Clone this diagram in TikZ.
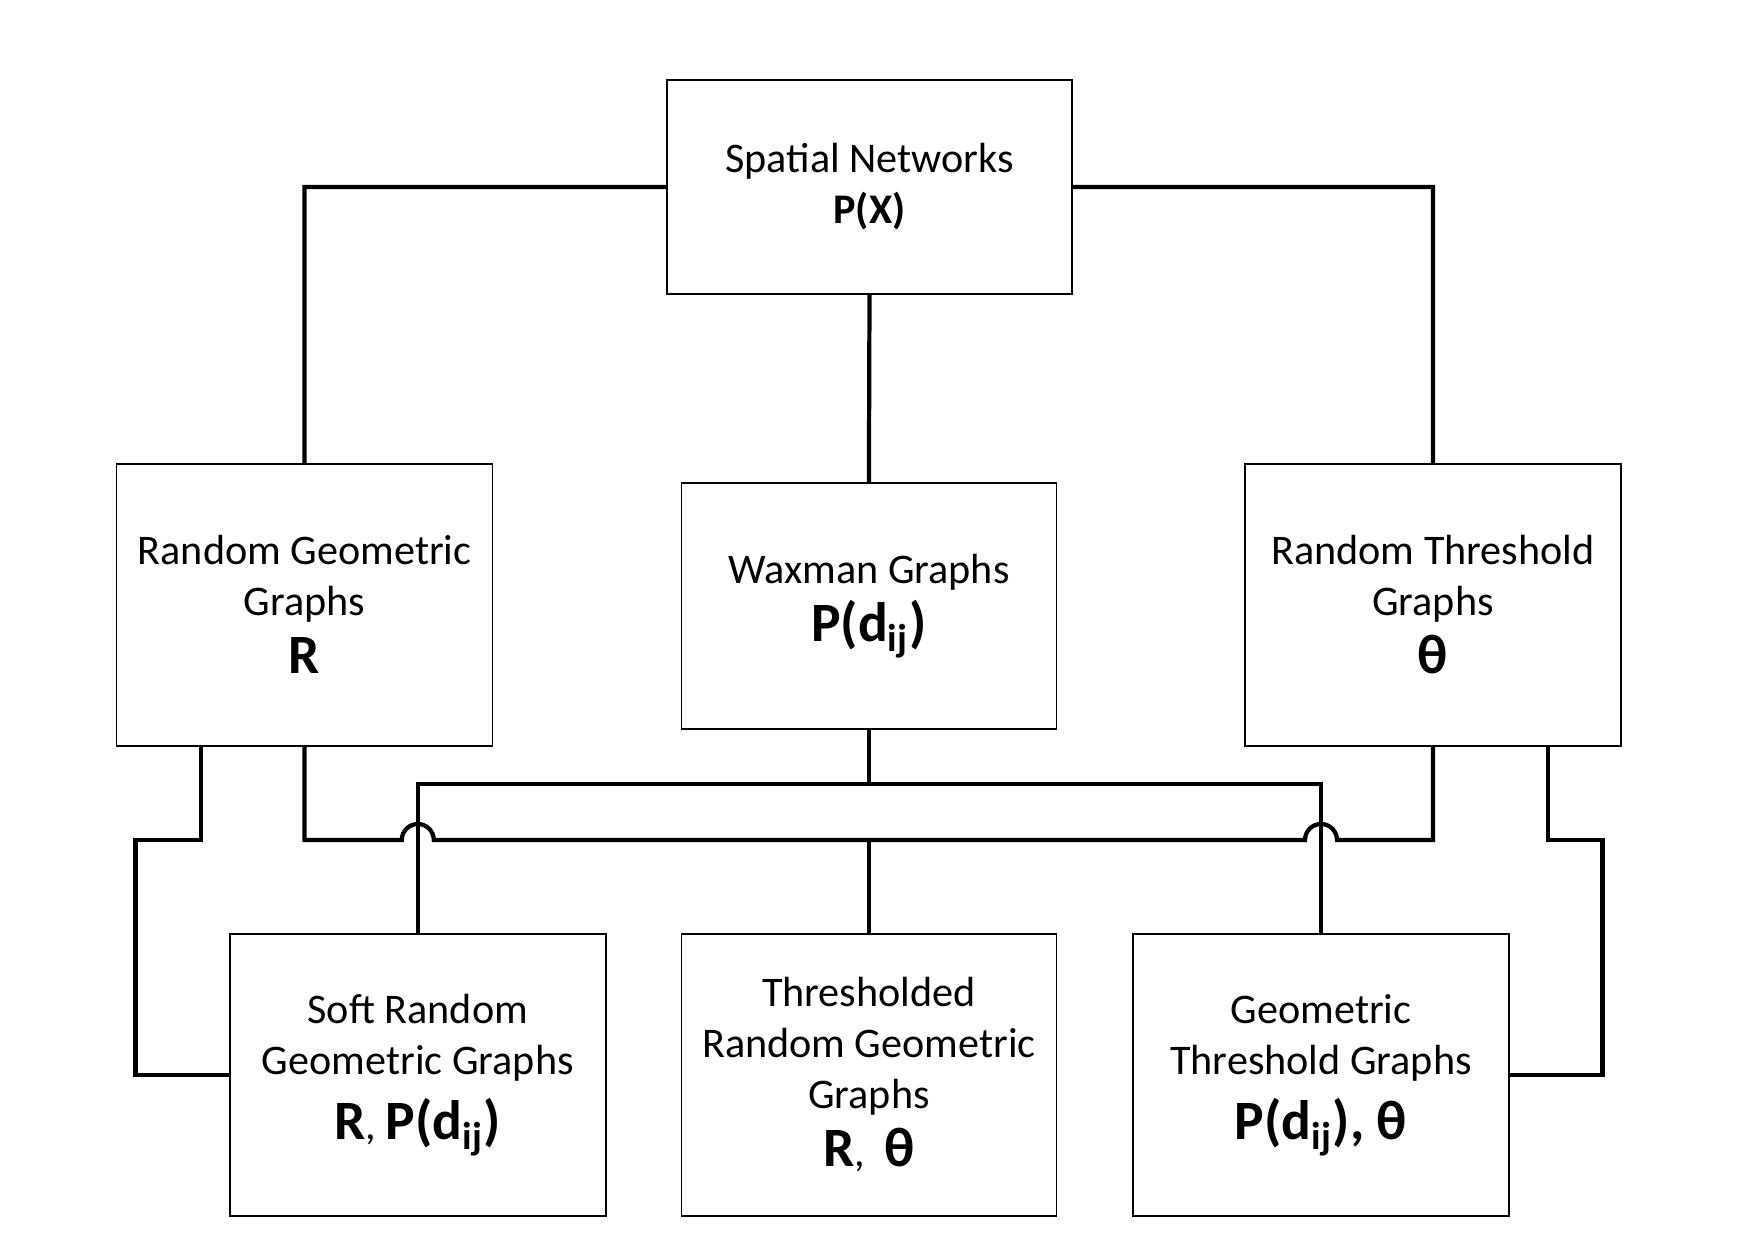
\documentclass[tikz,border=0pt]{standalone}
\usepackage{fontspec}
\setmainfont{Carlito}
\newcommand{\sym}{\fontsize{15.8}{19}\selectfont\bfseries}
\begin{document}
\begin{tikzpicture}
			[box/.style={draw,line width=0.45pt,inner sep=2pt,align=center,
				minimum width=3.76cm,minimum height=2.82cm,
				font=\fontsize{12}{14.5}\selectfont},
			link/.style={draw,line width=1.2pt}]
			\useasboundingbox (0,0) rectangle (17.4,-12.57);
			\node[box,minimum width=4.05cm,minimum height=2.14cm] (sn) at (8.695,-1.87)
				{Spatial Networks\\ \textbf{P(X)}};
			\node[box] (rgg) at (3.046,-6.048)
				{Random Geometric\\ Graphs\\[2pt] {\sym R}};
			\node[box,minimum width=3.75cm,minimum height=2.46cm] (wax) at (8.689,-6.058)
				{Waxman Graphs\\[2pt] {\sym P(d\textsubscript{ij})}};
			\node[box] (rtg) at (14.33,-6.048)
				{Random Threshold\\ Graphs\\[2pt] {\sym θ}};
			\node[box] (srgg) at (4.178,-10.75)
				{Soft Random\\ Geometric Graphs\\[4pt] {\sym R}, {\sym P(d\textsubscript{ij})}};
			\node[box,minimum width=3.75cm] (trgg) at (8.689,-10.75)
				{Thresholded\\ Random Geometric\\ Graphs\\[2pt] {\sym R},\ \ {\sym θ}};
			\node[box] (gtg) at (13.21,-10.75)
				{Geometric\\ Threshold Graphs\\[4pt] {\sym P(d\textsubscript{ij}), θ}};
			\coordinate (upbus) at (8.689,-7.844);
			\coordinate (lowbus) at (8.689,-8.40);
			\coordinate (lo) at (1.354,-8.40);
			\coordinate (ro) at (16.024,-8.40);
			\coordinate (hopl) at ([xshift=-0.16cm]srgg.north|-lowbus);
			\coordinate (hopr) at ([xshift=-0.16cm]gtg.north|-lowbus);
			% top level
			\path[link]
			(sn.west) -| (rgg.north)
			(sn.east) -| (rtg.north)
			(sn.south) -- (wax.north);
			% upper bus
			\path[link]
			(wax.south) -- (upbus)
			(srgg.north) |- (upbus) -| (gtg.north);
			% lower bus with hops
			\draw[link] (rgg.south) |- (hopl) arc[start angle=180,end angle=0,radius=0.16cm]
				-- (hopr) arc[start angle=180,end angle=0,radius=0.16cm] -| (rtg.south);
			\draw[link] (trgg.north) -- (lowbus);
			% outer links
			\draw[link] ([xshift=0.855cm]rgg.south west) |- (lo) |- (srgg.west);
			\draw[link] ([xshift=-0.74cm]rtg.south east) |- (ro) |- (gtg.east);
		\end{tikzpicture}
\end{document}
